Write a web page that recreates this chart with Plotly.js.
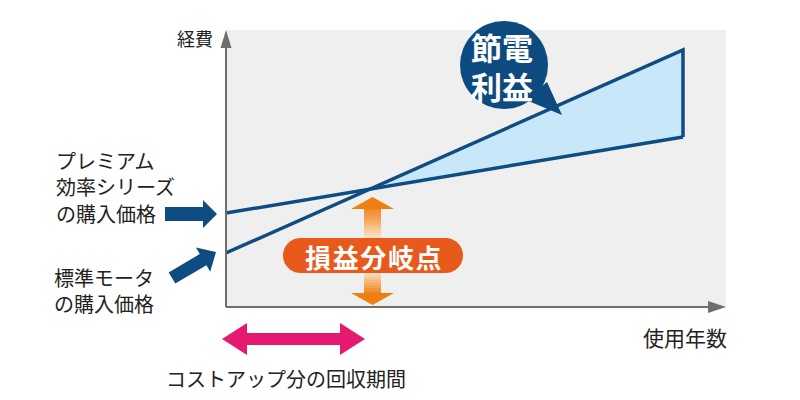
<!DOCTYPE html>
<html>
<head>
<meta charset="utf-8">
<script src="https://cdn.plot.ly/plotly-3.0.1.min.js"></script>
<style>html,body{margin:0;padding:0;background:#fff;}#chart{width:800px;height:400px;}</style>
</head>
<body>
<div id="chart"></div>
<script>
// ---- data (conceptual values) ----
const years = [0, 9.14];
const premiumCost = [3.39, 6.14];     // プレミアム効率シリーズ
const standardCost = [1.95, 9.28];    // 標準モータ
const breakevenYear = 2.87;
const breakevenCost = 4.25;

const yTitle = '経費';
const xTitle = '使用年数';
const premiumLabel = ['プレミアム', '効率シリーズ', 'の購入価格'];
const standardLabel = ['標準モータ', 'の購入価格'];
const bubbleLabel = ['節電', '利益'];
const breakevenLabel = '損益分岐点';
const paybackLabel = 'コストアップ分の回収期間';

// ---- layout geometry ----
const L = 226, R = 726, T = 30, B = 307;
const W = 800, H = 400;
const PX = x => (x - L) / (R - L);
const PY = y => (B - y) / (B - T);
const FONT = '"Noto Sans CJK JP", "Noto Sans", sans-serif';
const NAVY = '#0f4c81';

function poly(points) {
  return 'M' + points.map(p => PX(p[0]).toFixed(5) + ',' + PY(p[1]).toFixed(5)).join('L') + 'Z';
}
function arrow(tail, tip, sw, hw, hl) {
  const dx = tip[0] - tail[0], dy = tip[1] - tail[1];
  const len = Math.hypot(dx, dy), ux = dx / len, uy = dy / len, nx = -uy, ny = ux;
  const neck = [tip[0] - ux * hl, tip[1] - uy * hl];
  return [
    [tail[0] + nx * sw / 2, tail[1] + ny * sw / 2],
    [neck[0] + nx * sw / 2, neck[1] + ny * sw / 2],
    [neck[0] + nx * hw / 2, neck[1] + ny * hw / 2],
    tip,
    [neck[0] - nx * hw / 2, neck[1] - ny * hw / 2],
    [neck[0] - nx * sw / 2, neck[1] - ny * sw / 2],
    [tail[0] - nx * sw / 2, tail[1] - ny * sw / 2]
  ];
}
function dblArrow(a, b, sw, hw, hl) {
  const dx = b[0] - a[0], dy = b[1] - a[1];
  const len = Math.hypot(dx, dy), ux = dx / len, uy = dy / len, nx = -uy, ny = ux;
  const nA = [a[0] + ux * hl, a[1] + uy * hl], nB = [b[0] - ux * hl, b[1] - uy * hl];
  return [
    a,
    [nA[0] + nx * hw / 2, nA[1] + ny * hw / 2],
    [nA[0] + nx * sw / 2, nA[1] + ny * sw / 2],
    [nB[0] + nx * sw / 2, nB[1] + ny * sw / 2],
    [nB[0] + nx * hw / 2, nB[1] + ny * hw / 2],
    b,
    [nB[0] - nx * hw / 2, nB[1] - ny * hw / 2],
    [nB[0] - nx * sw / 2, nB[1] - ny * sw / 2],
    [nA[0] - nx * sw / 2, nA[1] - ny * sw / 2],
    [nA[0] - nx * hw / 2, nA[1] - ny * hw / 2]
  ];
}
function pill(x0, x1, y0, y1) {
  const r = (y1 - y0) / 2, cy = (y0 + y1) / 2, pts = [];
  for (let i = 0; i <= 20; i++) { const a = -Math.PI / 2 + Math.PI * i / 20; pts.push([x1 - r + r * Math.cos(a), cy + r * Math.sin(a)]); }
  for (let i = 0; i <= 20; i++) { const a = Math.PI / 2 + Math.PI * i / 20; pts.push([x0 + r + r * Math.cos(a), cy + r * Math.sin(a)]); }
  return pts;
}
function mix(c1, c2, t) {
  const h = c => [1, 3, 5].map(i => parseInt(c.substr(i, 2), 16));
  const a = h(c1), b = h(c2);
  return 'rgb(' + a.map((v, i) => Math.round(v + (b[i] - v) * t)).join(',') + ')';
}
function pshape(points, color) {
  return { type: 'path', xref: 'paper', yref: 'paper', path: poly(points), fillcolor: color, line: { width: 0 }, layer: 'above' };
}

// ---- traces ----
const endYear = years[years.length - 1];
const traces = [
  { // savings region
    x: [breakevenYear, endYear, endYear, breakevenYear],
    y: [breakevenCost, standardCost[1], premiumCost[1], breakevenCost],
    fill: 'toself', fillcolor: '#c8e7f8', mode: 'lines', line: { width: 0 }, hoverinfo: 'skip'
  },
  {
    x: years, y: premiumCost, mode: 'lines', line: { color: NAVY, width: 3.5 }, hoverinfo: 'skip'
  },
  {
    x: [years[0], endYear, endYear], y: [standardCost[0], standardCost[1], premiumCost[1]],
    mode: 'lines', line: { color: NAVY, width: 3.5 }, hoverinfo: 'skip'
  }
];

// ---- decorative shapes ----
const shapes = [];
// axes
shapes.push({ type: 'line', xref: 'paper', yref: 'paper', x0: PX(L), x1: PX(L), y0: PY(B), y1: PY(46), line: { color: '#6e6e6e', width: 2 } });
shapes.push(pshape([[220.5, 48], [226, 30], [231.5, 48]], '#6e6e6e'));
shapes.push({ type: 'line', xref: 'paper', yref: 'paper', x0: PX(L), x1: PX(710), y0: PY(B), y1: PY(B), line: { color: '#6e6e6e', width: 2 } });
shapes.push(pshape([[708, 301], [726, 307], [708, 313]], '#6e6e6e'));

// navy arrows on the left
shapes.push(pshape(arrow([165, 214], [217, 214], 14, 28, 14), NAVY));
shapes.push(pshape(arrow([172, 278], [216, 252], 13, 28, 15), NAVY));

// orange gradient double arrow
const ORANGE = '#ef7f10', PALE = '#fbe3c6';
const ax = 372.5, sw = 17;
shapes.push(pshape([[351, 209], [ax, 197], [394, 209]], ORANGE));
const n = 14;
for (let i = 0; i < n; i++) {
  const y0 = 208.5 + (238 - 208.5) * i / n, y1 = 208.5 + (238 - 208.5) * (i + 1) / n;
  shapes.push(pshape([[ax - sw / 2, y0 - 0.3], [ax + sw / 2, y0 - 0.3], [ax + sw / 2, y1], [ax - sw / 2, y1]], mix(ORANGE, PALE, (i + 0.5) / n)));
}
for (let i = 0; i < n; i++) {
  const y0 = 272 + (293.5 - 272) * i / n, y1 = 272 + (293.5 - 272) * (i + 1) / n;
  shapes.push(pshape([[ax - sw / 2, y0], [ax + sw / 2, y0], [ax + sw / 2, y1 + 0.3], [ax - sw / 2, y1 + 0.3]], mix(PALE, ORANGE, (i + 0.5) / n)));
}
shapes.push(pshape([[351, 293], [394, 293], [ax, 305]], ORANGE));
// pill
shapes.push(pshape(pill(283, 463, 238, 273), '#e85a1b'));

// pink double arrow
shapes.push(pshape(dblArrow([222, 339], [365, 339], 12, 32, 25), '#e5196f'));

// speech bubble
shapes.push({ type: 'circle', xref: 'paper', yref: 'paper', x0: PX(460), x1: PX(548), y0: PY(109), y1: PY(21), fillcolor: '#0d4a7f', line: { width: 0 }, layer: 'above' });
shapes.push(pshape([[526, 100], [547, 82], [562, 115]], '#0d4a7f'));

// ---- text ----
const txt = (text, x, y, size, opts) => Object.assign({
  text, xref: 'paper', yref: 'paper', x: PX(x), y: PY(y), showarrow: false,
  font: { family: FONT, size, color: '#222' }, xanchor: 'center', yanchor: 'middle'
}, opts || {});
const white = (size) => ({ font: { family: FONT, size, color: '#ffffff', weight: 'bold' } });

const annotations = [
  txt(yTitle, 195, 38, 18),
  txt(xTitle, 685, 337, 21),
  txt(paybackLabel, 286, 378, 20),
  txt(breakevenLabel.split('').join('\u200A'), 373, 256, 26, white(26))
];
premiumLabel.forEach((s, i) => annotations.push(txt(s, 54, 160 + 26.5 * i, 20, { xanchor: 'left', align: 'left', height: 25, valign: 'middle' })));
standardLabel.forEach((s, i) => annotations.push(txt(s, 52, 277 + 26.5 * i, 20, { xanchor: 'left', align: 'left', height: 25, valign: 'middle' })));
bubbleLabel.forEach((s, i) => annotations.push(txt(s, 502, 46 + 38.5 * i, 31, Object.assign(white(31), { height: 36, valign: 'middle' }))));

const layout = {
  width: W, height: H, autosize: false,
  margin: { l: L, r: W - R, t: T, b: H - B, pad: 0 },
  paper_bgcolor: '#ffffff', plot_bgcolor: '#efefef',
  showlegend: false,
  xaxis: { range: [0, 10], showgrid: false, zeroline: false, showticklabels: false, showline: false, ticks: '', fixedrange: true },
  yaxis: { range: [0, 10], showgrid: false, zeroline: false, showticklabels: false, showline: false, ticks: '', fixedrange: true },
  shapes, annotations
};

Plotly.newPlot('chart', traces, layout, { staticPlot: true, displayModeBar: false });
</script>
</body>
</html>
